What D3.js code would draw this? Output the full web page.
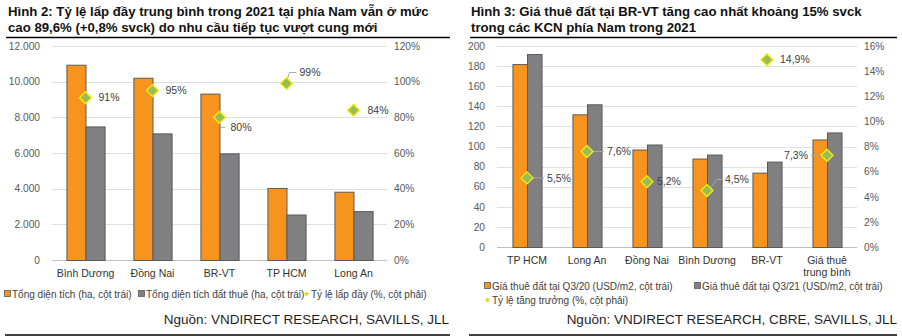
<!DOCTYPE html>
<html>
<head>
<meta charset="utf-8">
<script src="https://cdn.jsdelivr.net/npm/d3@7"></script>
<style>
	body { margin: 0; background: #fff; }
	svg { display: block; font-family: "Liberation Sans", Arial, sans-serif; }
</style>
</head>
<body>
<div id="chart"></div>
<script>
// Hình 2 data
const areaCategories = ["Bình Dương", "Đồng Nai", "BR-VT", "TP HCM", "Long An"];
const totalArea = [10950, 10220, 9330, 4040, 3830];
const leasedArea = [7490, 7100, 5980, 2550, 2740];
const occupancy = [0.91, 0.95, 0.80, 0.99, 0.84];
const areaTicks = [0, 2000, 4000, 6000, 8000, 10000, 12000];
const occupancyTicks = [0, 0.2, 0.4, 0.6, 0.8, 1.0, 1.2];

// Hình 3 data
const rentCategories = ["TP HCM", "Long An", "Đồng Nai", "Bình Dương", "BR-VT", "Giá thuê\ntrung bình"];
const rentQ320 = [182, 132, 97, 88, 74, 107];
const rentQ321 = [192, 142, 102, 92, 85, 114];
const rentGrowth = [0.055, 0.076, 0.052, 0.045, 0.149, 0.073];
const rentTicks = [0, 20, 40, 60, 80, 100, 120, 140, 160, 180, 200];
const growthTicks = [0, 0.02, 0.04, 0.06, 0.08, 0.10, 0.12, 0.14, 0.16];

const vn = d3.formatLocale({decimal: ",", thousands: ".", grouping: [3], currency: ["", ""]});

const ORANGE = "#f7941d";
const GREY = "#808083";
const BAR_STROKE = "#5a5a5a";

const svg = d3.select("#chart")
	.append("svg")
		.attr("width", 902)
		.attr("height", 336);

// label placement for the percent markers (layout only)
const occupancyLabelLayout = [
	{dx: 13, dy: 0, anchor: "start"},
	{dx: 13, dy: 0, anchor: "start"},
	{dx: 11, dy: 10, anchor: "start", leader: [[1, 5], [1, 10], [6, 10]]},
	{dx: 13, dy: -11, anchor: "start", leader: [[1, -5], [3, -11], [10, -11]]},
	{dx: 14, dy: 0, anchor: "start"}
];
const growthLabelLayout = [
	{dx: 20, dy: 0, anchor: "start", leader: [[5, 0], [17, 0]]},
	{dx: 20, dy: 0, anchor: "start", leader: [[5, 0], [17, 0]]},
	{dx: 10, dy: 0, anchor: "start"},
	{dx: 18, dy: -11, anchor: "start", leader: [[3, -2], [10, -11], [16, -11]]},
	{dx: 13, dy: 0, anchor: "start"},
	{dx: -19, dy: 0, anchor: "end", leader: [[-5, 0], [-16, 0]]}
];

drawChart({
	titleX: 8,
	title: ["Hình 2: Tỷ lệ lấp đầy trung bình trong 2021 tại phía Nam vẫn ở mức",
		"cao 89,6% (+0,8% svck) do nhu cầu tiếp tục vượt cung mới"],
	ruleX: [6, 450],
	plot: {left: 52, right: 387, top: 46, bottom: 260},
	categories: areaCategories,
	barsA: totalArea,
	barsB: leasedArea,
	points: occupancy,
	leftTicks: areaTicks,
	leftFormat: vn.format(",.0f"),
	rightTicks: occupancyTicks,
	rightFormat: vn.format(".0%"),
	pointFormat: vn.format(".0%"),
	labelLayout: occupancyLabelLayout,
	padding: 0.43,
	catY: 277,
	legend: [
		{type: "rect", color: ORANGE, x: 4, y: 294, text: "Tổng diện tích (ha, cột trái)"},
		{type: "rect", color: GREY, x: 138, y: 294, text: "Tổng diện tích đất thuê (ha, cột trái)"},
		{type: "dot", x: 303, y: 294, text: "Tỷ lệ lấp đầy (%, cột phải)"}
	],
	source: "Nguồn: VNDIRECT RESEARCH, SAVILLS, JLL",
	sourceX: 449,
	bottomRule: [5, 450]
});

drawChart({
	titleX: 471,
	title: ["Hình 3: Giá thuê đất tại BR-VT tăng cao nhất khoảng 15% svck",
		"trong các KCN phía Nam trong 2021"],
	ruleX: [470, 897],
	plot: {left: 497, right: 857, top: 46, bottom: 247},
	categories: rentCategories,
	barsA: rentQ320,
	barsB: rentQ321,
	points: rentGrowth,
	leftTicks: rentTicks,
	leftFormat: vn.format(",.0f"),
	rightTicks: growthTicks,
	rightFormat: vn.format(".0%"),
	pointFormat: vn.format(".1%"),
	labelLayout: growthLabelLayout,
	padding: 0.515,
	catY: 264,
	legend: [
		{type: "rect", color: ORANGE, x: 484, y: 286, text: "Giá thuê đất tại Q3/20 (USD/m2, cột trái)"},
		{type: "rect", color: GREY, x: 694, y: 286, text: "Giá thuê đất tại Q3/21 (USD/m2, cột trái)"},
		{type: "dot", x: 484, y: 300, text: "Tỷ lệ tăng trưởng (%, cột phải)"}
	],
	source: "Nguồn: VNDIRECT RESEARCH, CBRE, SAVILLS, JLL",
	sourceX: 897,
	bottomRule: [469, 897]
});

function drawChart(cfg){
	const g = svg.append("g");
	const p = cfg.plot;

	// title
	g.append("text")
		.attr("x", cfg.titleX)
		.attr("y", 16)
		.attr("font-size", 13.2)
		.attr("font-weight", "bold")
		.attr("fill", "#111")
		.selectAll("tspan")
		.data(cfg.title)
		.join("tspan")
			.attr("x", cfg.titleX)
			.attr("dy", (d, i) => i === 0 ? 0 : 15.5)
			.text(d => d);

	g.append("line")
		.attr("x1", cfg.ruleX[0]).attr("x2", cfg.ruleX[1])
		.attr("y1", 37.5).attr("y2", 37.5)
		.attr("stroke", "#000")
		.attr("stroke-width", 1.3);

	const x = d3.scaleBand()
		.domain(cfg.categories)
		.range([p.left, p.right])
		.paddingInner(cfg.padding)
		.paddingOuter(cfg.padding / 2);
	const sub = d3.scaleBand()
		.domain([0, 1])
		.range([0, x.bandwidth()]);
	const yL = d3.scaleLinear()
		.domain(d3.extent(cfg.leftTicks))
		.range([p.bottom, p.top]);
	const yR = d3.scaleLinear()
		.domain(d3.extent(cfg.rightTicks))
		.range([p.bottom, p.top]);

	// gridlines
	g.append("g")
		.selectAll("line")
		.data(cfg.leftTicks)
		.join("line")
			.attr("x1", p.left).attr("x2", p.right)
			.attr("y1", d => Math.round(yL(d)) + 0.5)
			.attr("y2", d => Math.round(yL(d)) + 0.5)
			.attr("stroke", d => d === 0 ? "#bfbfbf" : "#e0e0e0")
			.attr("stroke-width", 1);

	// left axis
	const leftAxis = g.append("g")
		.attr("transform", `translate(${p.left - 9},0)`)
		.call(d3.axisLeft(yL).tickValues(cfg.leftTicks).tickFormat(cfg.leftFormat).tickSize(0));
	// right axis
	const rightAxis = g.append("g")
		.attr("transform", `translate(${p.right + 4},0)`)
		.call(d3.axisRight(yR).tickValues(cfg.rightTicks).tickFormat(cfg.rightFormat).tickSize(0));
	[leftAxis, rightAxis].forEach(a => {
		a.select(".domain").remove();
		a.selectAll("text")
			.attr("font-family", "Liberation Sans, Arial, sans-serif")
			.attr("font-size", 10.2)
			.attr("fill", "#595959");
	});

	// bars
	const barData = cfg.categories.map((c, i) => [
		{cat: c, k: 0, v: cfg.barsA[i]},
		{cat: c, k: 1, v: cfg.barsB[i]}
	]).flat();

	g.append("g")
		.selectAll("rect")
		.data(barData)
		.join("rect")
			.attr("x", d => x(d.cat) + sub(d.k) + 0.5)
			.attr("y", d => yL(d.v) + 0.5)
			.attr("width", sub.bandwidth())
			.attr("height", d => p.bottom - yL(d.v))
			.attr("fill", d => d.k === 0 ? ORANGE : GREY)
			.attr("stroke", BAR_STROKE)
			.attr("stroke-width", 1);

	// category labels
	g.append("g")
		.selectAll("text")
		.data(cfg.categories)
		.join("text")
			.attr("text-anchor", "middle")
			.attr("font-size", 10.5)
			.attr("fill", "#333")
			.attr("x", d => x(d) + x.bandwidth() / 2)
			.attr("y", cfg.catY)
			.each(function(d){
				const lines = d.split("\n");
				d3.select(this).selectAll("tspan")
					.data(lines)
					.join("tspan")
						.attr("x", x(d) + x.bandwidth() / 2)
						.attr("dy", (l, i) => i === 0 ? 0 : 11.5)
						.text(l => l);
			});

	// markers
	const pts = cfg.points.map((v, i) => ({
		v,
		cx: x(cfg.categories[i]) + x.bandwidth() / 2,
		cy: yR(v),
		layout: cfg.labelLayout[i]
	}));

	const leaders = g.append("g");
	pts.forEach(d => {
		if(!d.layout.leader) return;
		leaders.append("polyline")
			.attr("points", d.layout.leader.map(q => [d.cx + q[0], d.cy + q[1]].join(",")).join(" "))
			.attr("fill", "none")
			.attr("stroke", "#a6a6a6")
			.attr("stroke-width", 1);
	});

	g.append("g")
		.selectAll("path")
		.data(pts)
		.join("path")
			.attr("transform", d => `translate(${d.cx},${d.cy})`)
			.attr("d", "M0,-6L6,0L0,6L-6,0Z")
			.attr("fill", "#9bbb59")
			.attr("stroke", "#f5f000")
			.attr("stroke-width", 1.3);

	g.append("g")
		.selectAll("text")
		.data(pts)
		.join("text")
			.attr("x", d => d.cx + d.layout.dx)
			.attr("y", d => d.cy + d.layout.dy)
			.attr("dy", "0.35em")
			.attr("text-anchor", d => d.layout.anchor)
			.attr("font-size", 10.5)
			.attr("fill", "#404040")
			.text(d => cfg.pointFormat(d.v));

	// legend
	const leg = g.append("g")
		.selectAll("g")
		.data(cfg.legend)
		.join("g")
			.attr("transform", d => `translate(${d.x},${d.y})`);
	leg.filter(d => d.type === "rect")
		.append("rect")
			.attr("x", 0.5).attr("y", -3.5)
			.attr("width", 6).attr("height", 6)
			.attr("fill", d => d.color)
			.attr("stroke", BAR_STROKE)
			.attr("stroke-width", 0.8);
	leg.filter(d => d.type === "dot")
		.append("path")
			.attr("transform", "translate(3.5,0)")
			.attr("d", "M0,-2.2L2.2,0L0,2.2L-2.2,0Z")
			.attr("fill", "#c8d85a")
			.attr("stroke", "#f5f000")
			.attr("stroke-width", 0.8);
	leg.append("text")
		.attr("x", 8)
		.attr("dy", "0.35em")
		.attr("font-size", 10)
		.attr("fill", "#404040")
		.text(d => d.text);

	// source
	g.append("text")
		.attr("x", cfg.sourceX)
		.attr("y", 324)
		.attr("text-anchor", "end")
		.attr("font-size", 13.5)
		.attr("fill", "#1f1f1f")
		.text(cfg.source);

	g.append("line")
		.attr("x1", cfg.bottomRule[0]).attr("x2", cfg.bottomRule[1])
		.attr("y1", 335).attr("y2", 335)
		.attr("stroke", "#000")
		.attr("stroke-width", 1.3);
}
</script>
</body>
</html>
